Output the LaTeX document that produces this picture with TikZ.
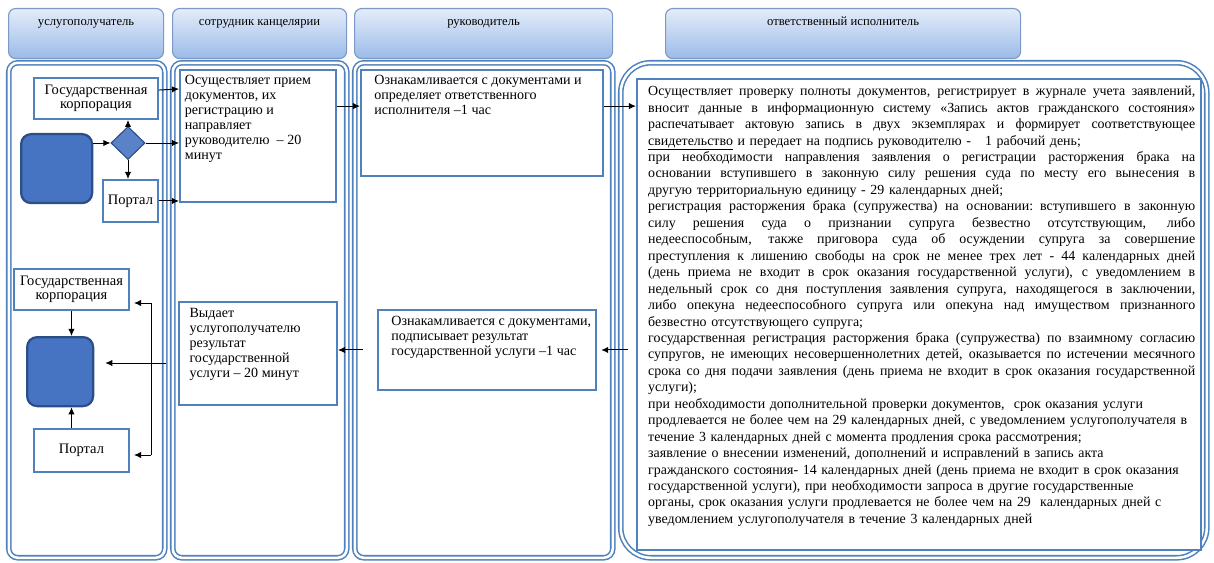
\documentclass[tikz,border=0pt]{standalone}
\usepackage{fontspec}
\setmainfont{Liberation Serif}
\usetikzlibrary{arrows.meta,positioning,shapes.geometric}

\newlength\pxl
\setlength\pxl{0.025cm}
\newlength\bodyw
\setlength\bodyw{547\pxl}
\newcommand{\jl}[1]{\leavevmode\hbox to\bodyw{\spaceskip=.25em plus 1fil\relax#1}}

\definecolor{lanecol}{RGB}{79,129,189}
\definecolor{hdrtop}{RGB}{228,236,249}
\definecolor{hdrbot}{RGB}{155,186,233}
\definecolor{hdrline}{RGB}{125,153,197}
\definecolor{actfill}{RGB}{70,116,194}
\definecolor{actline}{RGB}{44,78,135}

\begin{document}
\begin{tikzpicture}
	[
		x=0.025cm, y=-0.025cm,
		header/.style={draw=hdrline, line width=0.8pt, rounded corners=7\pxl, top color=hdrtop, bottom color=hdrbot,
			anchor=north west, inner sep=0pt, minimum height=50\pxl, text height=7pt, text depth=18.3pt,
			font=\fontsize{9}{10}\selectfont},
		lane/.style={draw=lanecol, line width=1.1pt, double=white, double distance=1.8pt, rounded corners=9\pxl,
			anchor=north west, inner sep=0pt, minimum height=495\pxl},
		box/.style={draw=lanecol, line width=1.4pt, fill=white, anchor=north west, inner sep=0pt, align=center,
			font=\fontsize{10.3}{10.2}\selectfont},
		actor/.style={draw=actline, line width=1.6pt, fill=actfill, rounded corners=10\pxl, anchor=north west, inner sep=0pt},
		decision/.style={diamond, draw=actline, line width=0.8pt, fill=actfill!90!white, inner sep=0pt,
			minimum width=34\pxl, minimum height=33\pxl},
		txt/.style={inner sep=2pt, align=left, font=\fontsize{10}{10.7}\selectfont},
		arrow/.style={-{Latex[length=5pt,width=4.5pt]}, line width=0.7pt}
	]

	\useasboundingbox (0,0) rectangle (1214,563);

	% headers
	\node[header, minimum width=155\pxl] (h1) at (  8, 8) {услугополучатель};
	\node[header, minimum width=174\pxl] (h2) at (172, 8) {сотрудник канцелярии};
	\node[header, minimum width=258\pxl] (h3) at (354, 8) {руководитель};
	\node[header, minimum width=355\pxl] (h4) at (665, 8) {ответственный исполнитель};

	% lanes
	\node[lane, minimum width=156\pxl] (l1) at (  8,62) {};
	\node[lane, minimum width=174\pxl] (l2) at (172,62) {};
	\node[lane, minimum width=258\pxl] (l3) at (354,62) {};
	\node[lane, minimum width=586\pxl, rounded corners=30\pxl] (l4) at (620,62) {};

	% upper part
	\node[box, minimum width=124\pxl, minimum height=41\pxl] (gk1) at ( 33, 77) {Государственная\\корпорация};
	\node[actor, minimum width=71\pxl, minimum height=69\pxl] (act1) at ( 20,133) {};
	\node[decision] (dia1) at (128,143) {};
	\node[box, minimum width=55\pxl, minimum height=42\pxl] (portal1) at (102,179) {Портал};
	\node[box, minimum width=156\pxl, minimum height=132\pxl] (b2a) at (179, 69) {};
	\node[box, minimum width=242\pxl, minimum height=106\pxl] (b3a) at (360, 69) {};
	\node[box, minimum width=564\pxl, minimum height=471\pxl] (b4) at (636, 78) {};

	% lower part
	\node[box, minimum width=115\pxl, minimum height=41\pxl] (gk2) at ( 13,268) {Государственная\\корпорация};
	\node[actor, minimum width=66\pxl, minimum height=69\pxl] (act2) at ( 26,336) {};
	\node[box, minimum width=95\pxl, minimum height=43\pxl] (portal2) at ( 33,428) {Портал};
	\node[box, minimum width=158\pxl, minimum height=103\pxl] (b2b) at (178,301) {};
	\node[box, minimum width=218\pxl, minimum height=80\pxl] (b3b) at (377,309) {};

	% texts
	\node[txt, below right=2pt and 2pt of b2a.north west] (t2a)
		{Осуществляет прием\\документов, их\\регистрацию и\\направляет\\руководителю \ – 20\\минут};
	\node[txt, below right=2pt and 8pt of b3a.north west] (t3a)
		{Ознакамливается с документами и\\определяет ответственного\\исполнителя –1 час};
	\node[txt, below right=3pt and 6pt of b2b.north west] (t2b)
		{Выдает\\услугополучателю\\результат\\государственной\\услуги – 20 минут};
	\node[txt, below right=3pt and 8pt of b3b.north west] (t3b)
		{Ознакамливается с документами,\\подписывает результат\\государственной услуги –1 час};
	\node[txt, text width=\bodyw, font=\fontsize{9.9}{11.7}\selectfont, below right=3.6pt and 6.5pt of b4.north west] (t4)
		{\jl{Осуществляет проверку полноты документов, регистрирует в журнале учета заявлений,}\\
		\jl{вносит данные в информационную систему «Запись актов гражданского состояния»}\\
		\jl{распечатывает актовую запись в двух экземплярах и формирует соответствующее}\\
		\underline{свидетельство} и передает на подпись руководителю -\ \ \ 1 рабочий день;\\
		\jl{при необходимости направления заявления о регистрации расторжения брака на}\\
		\jl{основании вступившего в законную силу решения суда по месту его вынесения в}\\
		другую территориальную единицу - 29 календарных дней;\\
		\jl{регистрация расторжения брака (супружества) на основании: вступившего в законную}\\
		\jl{силу решения суда о признании супруга безвестно отсутствующим, либо}\\
		\jl{недееспособным, также приговора суда об осуждении супруга за совершение}\\
		\jl{преступления к лишению свободы на срок не менее трех лет - 44 календарных дней}\\
		\jl{(день приема не входит в срок оказания государственной услуги), с уведомлением в}\\
		\jl{недельный срок со дня поступления заявления супруга, находящегося в заключении,}\\
		\jl{либо опекуна недееспособного супруга или опекуна над имуществом признанного}\\
		безвестно отсутствующего супруга;\\
		\jl{государственная регистрация расторжения брака (супружества) по взаимному согласию}\\
		\jl{супругов, не имеющих несовершеннолетних детей, оказывается по истечении месячного}\\
		\jl{срока со дня подачи заявления (день приема не входит в срок оказания государственной}\\
		услуги);\\
		при необходимости дополнительной проверки документов,\ \ срок оказания услуги\\
		продлевается не более чем на 29 календарных дней, с уведомлением услугополучателя в\\
		течение 3 календарных дней с момента продления срока рассмотрения;\\
		заявление о внесении изменений, дополнений и исправлений в запись акта\\
		гражданского состояния- 14 календарных дней (день приема не входит в срок оказания\\
		государственной услуги), при необходимости запроса в другие государственные\\
		органы, срок оказания услуги продлевается не более чем на 29\ \ календарных дней с\\
		уведомлением услугополучателя в течение 3 календарных дней};

	% helper points
	\coordinate (in3) at ([yshift=12pt]b3a.west);
	\coordinate (ret) at (l1.east |- 0,363);
	\coordinate (bustop) at (151,303);
	\coordinate (busbot) at (151,455);

	% arrows, upper part
	\draw[arrow] (act1.east |- dia1.west) -- (dia1.west);
	\draw[arrow] (dia1.north) -- (dia1.north |- gk1.south);
	\draw[arrow] (dia1.south) -- (dia1.south |- portal1.north);
	\draw[arrow] (dia1.east) -- (b2a.west |- dia1.east);
	\draw[arrow] ([yshift=6pt]gk1.east) -- (b2a.west |- 0,89);
	\draw[arrow] (portal1.east) -- (b2a.west |- portal1.east);
	\draw[arrow] (b2a.east |- in3) -- (in3);
	\draw[arrow] (b3a.east |- in3) -- (b4.west |- in3);

	% arrows, lower part
	\draw[arrow, shorten >=3pt] ([xshift=-6pt]b4.west |- b3b.east) -- (b3b.east);
	\draw[arrow, shorten <=10pt] (b3b.west) -- (b2b.east |- b3b.west);
	\draw[arrow, shorten >=11\pxl] (ret) -- (act2.east |- ret);
	\draw[line width=0.7pt] (bustop) -- (busbot);
	\foreach \from/\to in {bustop/gk2,busbot/portal2}
	\draw[arrow, shorten >=4\pxl] (\from) -- (\to.east |- \from);
	\draw[arrow] (gk2.south) -- (act2.north -| gk2.south);
	\draw[arrow] (portal2.north -| gk2.south) -- (act2.south -| gk2.south);

\end{tikzpicture}
\end{document}
